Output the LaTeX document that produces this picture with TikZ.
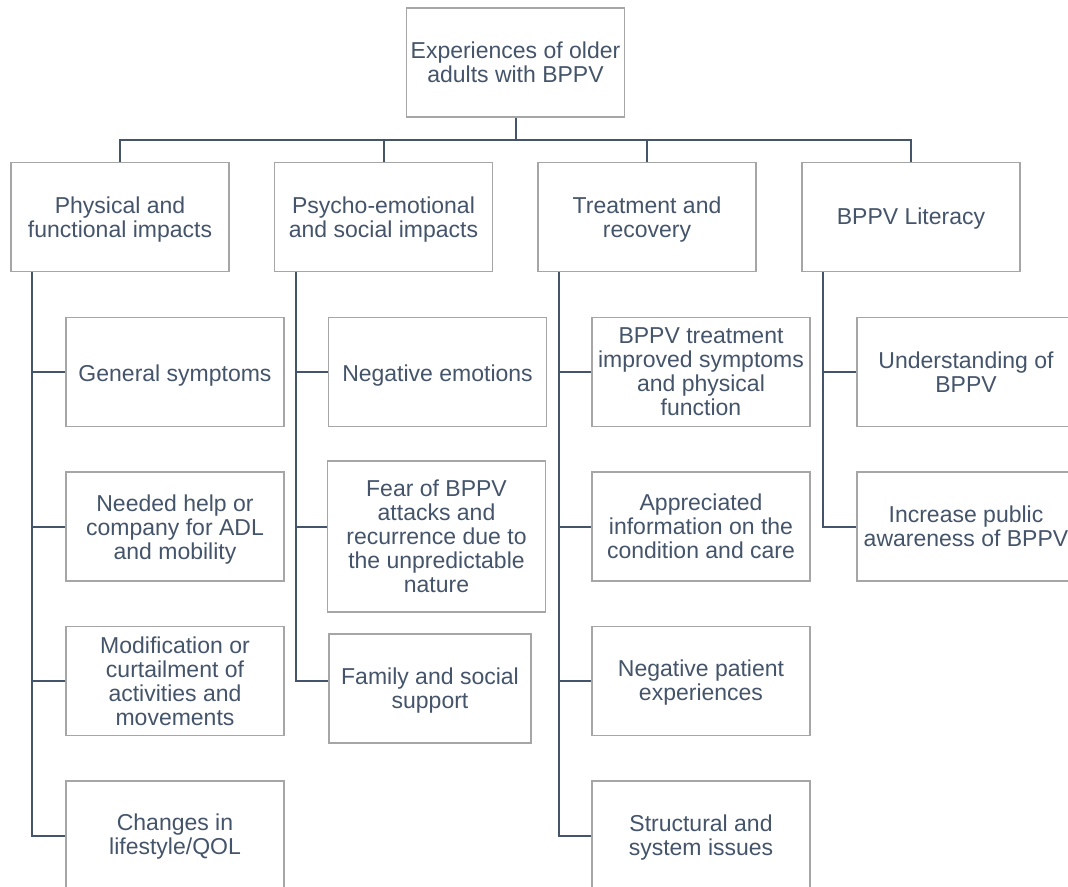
\documentclass[tikz,border=0pt]{standalone}
\usepackage{fontspec}
\setmainfont{Liberation Sans}
\begin{document}
\definecolor{ink}{HTML}{44546A}
\definecolor{frame}{HTML}{A6A6A6}
\begin{tikzpicture}[x=0.75pt,y=-0.75pt,
  box/.style={draw=frame,line width=0.9pt,fill=white,text=ink,align=center,
    inner sep=0pt,minimum width=163.5pt,minimum height=81.75pt,
    font=\fontsize{17.25}{18}\selectfont},
  % a strut taller than the text block sets the text a little lower in its box
  low/.style={box,execute at begin node={\rule{0pt}{#1}}},
  conn/.style={draw=ink,line width=1.5pt}]
\path[use as bounding box,clip] (0,0) rectangle (1068,886);

% root
\node[box] (root) at (515.5,62.5) {Experiences of older\\adults with BPPV};

% themes
\node[low=34.6pt] (p1) at (120,217)   {Physical and\\functional impacts};
\node[low=34.6pt] (p2) at (383.5,217) {Psycho-emotional\\and social impacts};
\node[low=34.6pt] (p3) at (647,217)   {Treatment and\\recovery};
\node[low=15.1pt] (p4) at (911,217)   {BPPV Literacy};

% sub-themes, column 1
\node[low=17.1pt] (c11) at (175,372)   {General symptoms};
\node[low=52.6pt] (c12) at (175,526.5) {Needed help or\\company for ADL\\and mobility};
\node[box] (c13) at (175,681)   {Modification or\\curtailment of\\activities and\\movements};
\node[low=32.1pt] (c14) at (175,835.5) {Changes in\\lifestyle/QOL};

% column 2
\node[low=17.1pt] (c21) at (437.5,372)   {Negative emotions};
\node[box,minimum height=113.25pt] (c22) at (436.5,536.5)
  {Fear of BPPV\\attacks and\\recurrence due to\\the unpredictable\\nature};
\node[low=33.1pt,minimum width=151.5pt] (c23) at (430,688.5) {Family and social\\support};

% column 3
\node[box] (c31) at (701,372)   {BPPV treatment\\improved symptoms\\and physical\\function};
\node[box] (c32) at (701,526.5) {Appreciated\\information on the\\condition and care};
\node[low=33.1pt] (c33) at (701,681)   {Negative patient\\experiences};
\node[low=33.1pt] (c34) at (701,835.5) {Structural and\\system issues};

% column 4
\node[box] (c41) at (966,372)   {Understanding of\\BPPV};
\node[box] (c42) at (966,526.5) {Increase public\\awareness of BPPV};

% top level connectors
\coordinate (bar) at (0,140);
\draw[conn] (root.south) -- (root.south |- bar);
\draw[conn] (p1.north) -- (p1.north |- bar) -- (p4.north |- bar) -- (p4.north);
\draw[conn] (p2.north) -- (p2.north |- bar);
\draw[conn] (p3.north) -- (p3.north |- bar);

% trunks
\coordinate (t1) at ([xshift=16.5pt]p1.south west);
\coordinate (t2) at ([xshift=16.5pt]p2.south west);
\coordinate (t3) at ([xshift=16.5pt]p3.south west);
\coordinate (t4) at ([xshift=16.5pt]p4.south west);

\draw[conn] (t1) |- (c14.west);
\draw[conn] (t1 |- c11.west) -- (c11.west);
\draw[conn] (t1 |- c12.west) -- (c12.west);
\draw[conn] (t1 |- c13.west) -- (c13.west);

\coordinate (f22) at ([yshift=7pt]c22.west);
\coordinate (f23) at ([yshift=5.6pt]c23.west);
\draw[conn] (t2) |- (f23);
\draw[conn] (t2 |- c21.west) -- (c21.west);
\draw[conn] (t2 |- f22) -- (f22);

\draw[conn] (t3) |- (c34.west);
\draw[conn] (t3 |- c31.west) -- (c31.west);
\draw[conn] (t3 |- c32.west) -- (c32.west);
\draw[conn] (t3 |- c33.west) -- (c33.west);

\draw[conn] (t4) |- (c42.west);
\draw[conn] (t4 |- c41.west) -- (c41.west);
\end{tikzpicture}
\end{document}
